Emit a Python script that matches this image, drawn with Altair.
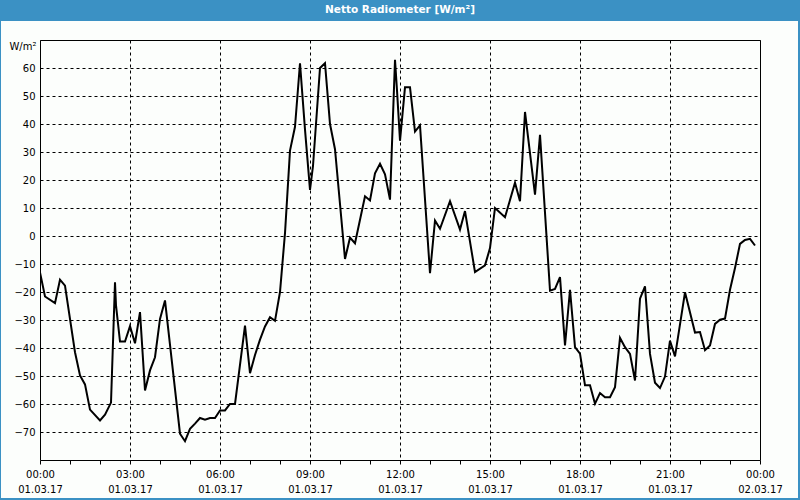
import altair as alt
import pandas as pd

# time of day (HH:MM on 01.03.17) and net radiation values [W/m²]
times = ["00:00","00:10","00:30","00:40","00:50","01:10","01:20","01:30","01:40","02:00",
         "02:10","02:22","02:30","02:32","02:40","02:50","03:00","03:10","03:20","03:30",
         "03:40","03:50","04:00","04:10","04:40","04:50","05:00","05:10","05:20","05:30",
         "05:40","05:50","06:00","06:10","06:20","06:30","06:50","07:00","07:10","07:20",
         "07:30","07:40","07:50","08:00","08:10","08:20","08:30","08:40","08:50","09:00",
         "09:06","09:20","09:30","09:40","09:50","10:10","10:20","10:30","10:50","11:00",
         "11:10","11:20","11:30","11:40","11:50","11:54","12:00","12:10","12:20","12:30",
         "12:40","13:00","13:10","13:20","13:40","14:00","14:10","14:30","14:50","15:00",
         "15:10","15:30","15:50","16:00","16:10","16:30","16:40","17:00","17:10","17:20",
         "17:30","17:40","17:50","18:00","18:10","18:20","18:30","18:40","18:50","19:00",
         "19:10","19:20","19:30","19:40","19:50","20:00","20:10","20:20","20:30","20:40",
         "20:50","21:00","21:10","21:30","21:50","22:00","22:10","22:20","22:30","22:40",
         "22:50","23:00","23:10","23:20","23:30","23:40","23:50"]
values = [-13.0,-21.6,-24.0,-15.6,-17.7,-41.5,-49.8,-53.0,-62.0,-65.9,
          -63.8,-59.5,-16.5,-24.8,-37.7,-37.7,-32.2,-38.3,-27.2,-55.2,
          -48.0,-43.3,-29.6,-23.0,-70.6,-73.3,-68.9,-67.0,-65.0,-65.6,
          -65.0,-65.0,-62.3,-62.3,-60.0,-60.0,-32.0,-49.0,-42.5,-37.0,
          -32.3,-29.0,-30.3,-20.0,1.0,30.5,39.0,61.7,38.0,16.5,
          25.0,60.0,61.7,40.0,31.0,-8.2,-0.6,-2.6,14.2,12.7,
          22.4,25.8,22.0,13.0,62.9,52.0,34.0,53.1,53.1,37.3,
          39.5,-13.3,5.5,2.6,12.4,2.3,8.9,-12.9,-10.5,-4.3,
          10.0,6.7,19.0,12.4,44.3,14.8,36.1,-19.5,-18.9,-14.7,
          -39.1,-19.2,-39.7,-42.0,-53.3,-53.3,-59.9,-56.1,-57.6,-57.6,
          -54.0,-36.4,-39.7,-42.1,-51.6,-22.4,-18.0,-42.1,-52.4,-54.3,
          -50.2,-37.4,-43.0,-20.1,-34.5,-34.3,-40.8,-39.1,-31.4,-29.9,
          -29.5,-19.2,-11.4,-2.8,-1.4,-1.0,-3.4]
y_ticks = [-70, -60, -50, -40, -30, -20, -10, 0, 10, 20, 30, 40, 50, 60]
title_text = "Netto Radiometer [W/m²]"
unit_text = "W/m²"

df = pd.DataFrame({"time": ["2017-03-01T" + t + ":00" for t in times], "value": values})

BLUE = "#3b91c4"
BG = "#fcfefc"
FONT = "DejaVu Sans"

hour_ticks = [alt.DateTime(year=2017, month=3, date=1, hours=h) for h in range(24)] + \
             [alt.DateTime(year=2017, month=3, date=2, hours=0)]

x_axis = alt.Axis(
    values=hour_ticks,
    title=None,
    domain=False,
    ticks=True, tickSize=4, tickColor="black",
    grid=True, gridColor="black", gridDash=[3, 3], gridWidth=1,
    gridOpacity={"condition": {"test": "hours(datum.value) % 3 == 0", "value": 1}, "value": 0},
    labelExpr="hours(datum.value) % 3 == 0 ? [timeFormat(datum.value, '%H:%M'), timeFormat(datum.value, '%d.%m.%y')] : ''",
    labelFont=FONT, labelFontSize=10, labelColor="black", labelPadding=5,
    labelLineHeight=15, labelBaseline="top", labelFlush=False, labelOverlap=False,
)
y_axis = alt.Axis(
    values=y_ticks,
    title=unit_text, titleAngle=0, titleAlign="right", titleBaseline="middle",
    titleX=-4, titleY=6, titleFont=FONT, titleFontSize=10, titleFontWeight="normal",
    titleColor="black",
    domain=False, ticks=False,
    grid=True, gridColor="black", gridDash=[3, 3], gridWidth=1,
    labelFont=FONT, labelFontSize=10, labelColor="black", labelPadding=5,
)

line = alt.Chart(df).mark_line(color="black", strokeWidth=2, clip=True).encode(
    x=alt.X("time:T", axis=x_axis,
            scale=alt.Scale(domain=[alt.DateTime(year=2017, month=3, date=1, hours=0),
                                    alt.DateTime(year=2017, month=3, date=2, hours=0)])),
    y=alt.Y("value:Q", axis=y_axis, scale=alt.Scale(domain=[-80, 70], nice=False)),
)

one = alt.Data(values=[{}])
bar = alt.Chart(one).mark_rect(color=BLUE).encode(
    x=alt.value(-40), x2=alt.value(760), y=alt.value(-40), y2=alt.value(-19))
left_b = alt.Chart(one).mark_rect(color=BLUE).encode(
    x=alt.value(-40), x2=alt.value(-39), y=alt.value(-40), y2=alt.value(460))
right_b = alt.Chart(one).mark_rect(color=BLUE).encode(
    x=alt.value(758), x2=alt.value(760), y=alt.value(-40), y2=alt.value(460))
bottom_b = alt.Chart(one).mark_rect(color=BLUE).encode(
    x=alt.value(-40), x2=alt.value(760), y=alt.value(458), y2=alt.value(460))
title = alt.Chart(one).mark_text(
    text=title_text, color="white", font=FONT, fontSize=10.5, fontWeight="bold",
    align="center", baseline="middle").encode(x=alt.value(360), y=alt.value(-30))

chart = alt.layer(line, bar, left_b, right_b, bottom_b, title).properties(
    width=720, height=420,
    autosize=alt.AutoSizeParams(type="none"),
    padding={"left": 40, "top": 40, "right": 40, "bottom": 40},
    background=BG,
).configure_view(stroke="black", strokeWidth=1, fill=BG)

chart.save("out.html", embed_options={"renderer": "svg", "actions": False})
